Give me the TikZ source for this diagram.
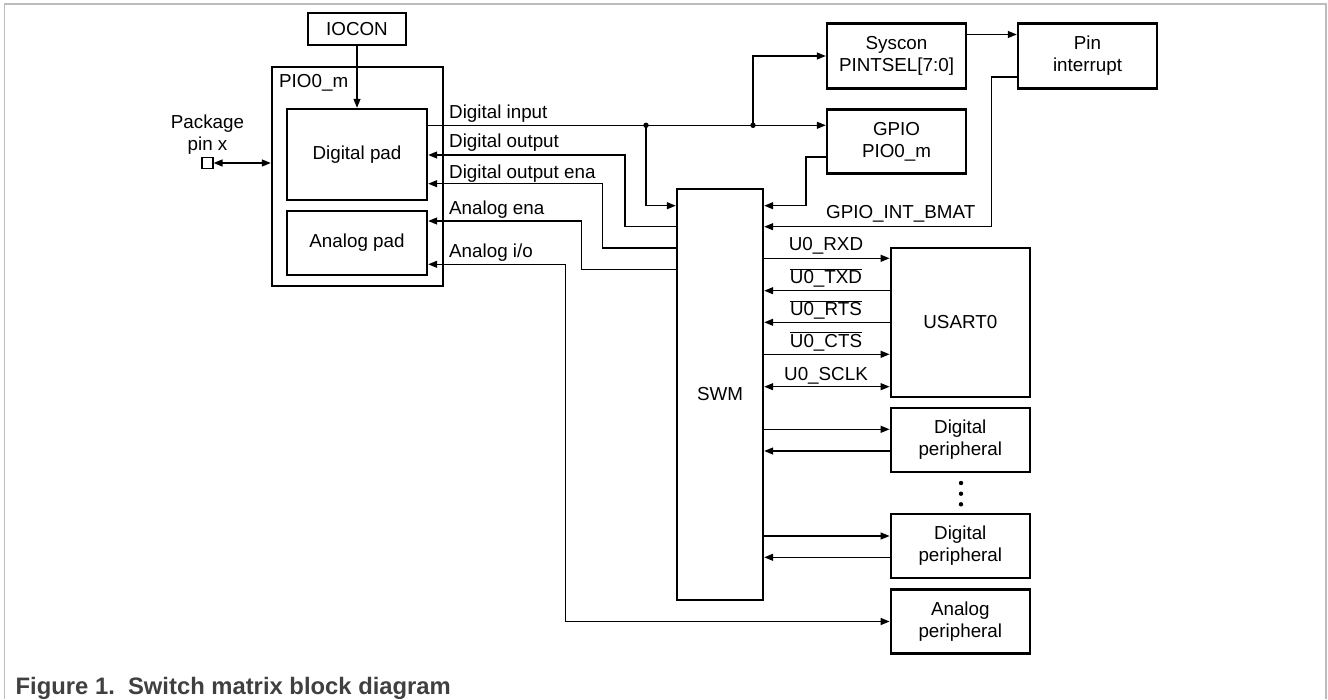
\documentclass[tikz,border=0pt]{standalone}
\usepackage{fontspec}
\setmainfont{Liberation Sans}
\usetikzlibrary{arrows.meta,positioning}
\definecolor{framegray}{HTML}{BDBDBD}
\definecolor{captiongray}{HTML}{404040}
\tikzset{
  blk/.style={draw, line width=2.4pt, align=center, inner sep=0pt},
  padblk/.style={blk, minimum width=140pt, minimum height=#1},
  sideblk/.style={blk, minimum width=139pt, minimum height=#1},
  wire/.style={line width=1.3pt, >={Triangle[length=9pt,width=7pt]}},
  lbl/.style={inner sep=0pt, anchor=base west},
  usl/.style={inner sep=0pt, anchor=base},
}
\newcommand{\ovl}[1]{$\overline{\mbox{#1}}$}

\begin{document}
\begin{tikzpicture}[x=1pt, y=-1pt, font=\fontsize{18.8}{22}\selectfont]
      \useasboundingbox (0,0) rectangle (1328,699);
      \draw[framegray, line width=1.3pt] (4.5,699) -- (4.5,4) -- (1326,4) -- (1326,699);

      \node[blk, minimum width=98pt, minimum height=32pt] (iocon) at (357,29) {IOCON};
      \node[blk, minimum width=171pt, minimum height=219pt] (pio) at (357.5,176.5) {};
      \node[lbl] (piolbl) at (279,87.5) {PIO0\_m};
      \node[padblk=91pt] (dpad) at (357,154.5) {Digital pad};
      \node[padblk=64pt] (apad) at (357,243) {Analog pad};
      \node[draw, line width=1.2pt, minimum size=11pt, inner sep=0pt] (pin) at (207.5,163) {};
      \node[above=2pt of pin, align=center, inner sep=0pt] (pinlbl) {Package\\pin x};

      \node[sideblk=65pt] (syscon) at (896.5,56) {Syscon\\PINTSEL[7:0]};
      \node[sideblk=65pt] (pinint) at (1087.5,56) {Pin\\interrupt};
      \node[sideblk=64pt] (gpio) at (896.5,141.5) {GPIO\\PIO0\_m};
      \node[blk, minimum width=86pt, minimum height=411pt] (swm) at (720,394.5) {SWM};
      \node[sideblk=149pt] (usart) at (960.3,322.5) {USART0};
      \node[sideblk=64pt] (dper1) at (960.3,440) {Digital\\peripheral};
      \node[sideblk=64pt] (dper2) at (960.3,546) {Digital\\peripheral};
      \node[sideblk=64pt] (aper) at (960.3,621.5) {Analog\\peripheral};

      \coordinate (j1) at (646,125.3);
      \coordinate (j2) at (753,125.3);
      \draw[wire,->] (iocon) -- (dpad);
      \draw[wire,<->] (pin) -- (pin -| pio.west);
      \draw[wire,->] (dpad.east |- j1) -- (j2 -| gpio.west);
      \draw[wire,->] (j1) |- (swm.west |- 0,205.7);
      \draw[wire,->] (j2) |- (syscon);
      \fill (j1) circle (2.7pt) (j2) circle (2.7pt);
      \draw[wire,->] (swm.west |- 0,226.7) -| (625,155) -- (dpad.east |- 0,155);
      \draw[wire,->] (swm.west |- 0,248) -| (602.7,183.7) -- (dpad.east |- 0,183.7);
      \draw[wire,->] (swm.west |- 0,269.3) -| (581.7,221) -- (apad.east |- 0,221);
      \draw[wire,<->] (apad.east |- 0,264.3) -| (565.7,621.5) -- (aper.west);
      \node[lbl] (ldin) at (449,118.7) {Digital input};
      \node[lbl] (ldout) at (449,147.7) {Digital output};
      \node[lbl] (ldena) at (449,178.3) {Digital output ena};
      \node[lbl] (laena) at (449,214.3) {Analog ena};
      \node[lbl] (laio) at (449,257.7) {Analog i/o};

      \draw[wire,->] (syscon.east |- 0,34.5) -- (pinint.west |- 0,34.5);
      \draw[wire,->] (pinint.west |- 0,77) -| (991.5,226.7) -- (swm.east |- 0,226.7);
      \draw[wire,->] (gpio.west |- 0,157) -| (806,205.7) -- (swm.east |- 0,205.7);
      \node[lbl] (lbmat) at (826,218) {GPIO\_INT\_BMAT};

      \draw[wire,->] (swm.east |- 0,258.3) -- (usart.west |- 0,258.3);
      \draw[wire,<-] (swm.east |- 0,290.7) -- (usart.west |- 0,290.7);
      \draw[wire,<-] (swm.east |- 0,322.3) -- (usart.west |- 0,322.3);
      \draw[wire,->] (swm.east |- 0,354.3) -- (usart.west |- 0,354.3);
      \draw[wire,<->] (swm.east |- 0,386.7) -- (usart.west |- 0,386.7);
      \node[usl] (lrxd) at (826,250.3) {U0\_RXD};
      \node[usl] (ltxd) at (826,283.5) {\ovl{U0\_TXD}};
      \node[usl] (lrts) at (826,315.5) {\ovl{U0\_RTS}};
      \node[usl] (lcts) at (826,347) {\ovl{U0\_CTS}};
      \node[usl] (lsclk) at (826,380) {U0\_SCLK};

      \draw[wire,->] (swm.east |- 0,429.3) -- (dper1.west |- 0,429.3);
      \draw[wire,<-] (swm.east |- 0,451) -- (dper1.west |- 0,451);
      \draw[wire,->] (swm.east |- 0,536) -- (dper2.west |- 0,536);
      \draw[wire,<-] (swm.east |- 0,557.3) -- (dper2.west |- 0,557.3);
      \fill (961,483) circle (2.2pt) (961,493.7) circle (2.2pt) (961,504.3) circle (2.2pt);

      \node[anchor=base west, inner sep=0pt, text=captiongray, font=\fontsize{23.8}{28}\selectfont\bfseries] (caption) at (15.5,694) {Figure 1.\ \ Switch matrix block diagram};
    \end{tikzpicture}
\end{document}
